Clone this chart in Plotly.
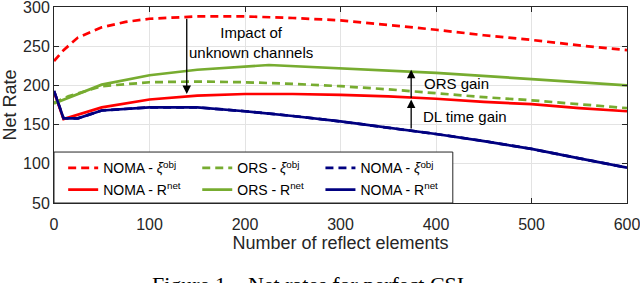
import plotly.graph_objects as go

# ---- data ----
x_noma_obj = [0, 10, 25, 50, 75, 100, 150, 200, 250, 300, 350, 400, 450, 500, 550, 600]
noma_obj = [231, 245, 261, 274, 281, 285, 288, 288, 286, 283, 277, 271, 264, 258, 251, 245]

x_ors_obj = [0, 15, 50, 100, 150, 200, 250, 300, 350, 400, 450, 500, 550, 600]
ors_obj = [178, 186, 199, 204, 205, 204, 202, 199, 195, 190, 185, 181, 176, 171]

x_noma_net = [0, 10, 50, 100, 150, 200, 250, 300, 350, 400, 450, 500, 550, 600]
noma_net = [192, 157, 172, 182, 187, 189, 189, 188, 186, 183, 179, 176, 171, 167]

x_ors_net = [0, 50, 100, 150, 225, 300, 400, 500, 600]
ors_net = [177, 201, 213, 220, 226, 222, 216, 208, 200]

x_noma2 = [0, 10, 25, 50, 100, 150, 200, 250, 300, 350, 400, 450, 500, 550, 600]
noma2_net = [193, 158, 158, 168, 172, 172, 167, 161, 154, 146, 138, 129, 119, 107, 95]
noma2_obj = noma2_net  # hidden beneath the solid navy line

x_ticks = [0, 100, 200, 300, 400, 500, 600]
y_ticks = [50, 100, 150, 200, 250, 300]

RED = "#FF0000"
GREEN = "#77AC30"
NAVY = "#000080"
AX = "#262626"
FONT = "Liberation Sans, Arial, sans-serif"

fig = go.Figure()
series = [
    (x_noma_obj, noma_obj, RED, "8px,5px", "NOMA - <i>ξ</i><sup>obj</sup>", "legend"),
    (x_ors_obj, ors_obj, GREEN, "8px,5px", "ORS - <i>ξ</i><sup>obj</sup>", "legend2"),
    (x_noma2, noma2_obj, NAVY, "8px,5px", "NOMA - <i>ξ</i><sup>obj</sup>", "legend3"),
    (x_noma_net, noma_net, RED, "solid", "NOMA - R<sup>net</sup>", "legend4"),
    (x_ors_net, ors_net, GREEN, "solid", "ORS - R<sup>net</sup>", "legend5"),
    (x_noma2, noma2_net, NAVY, "solid", "NOMA - R<sup>net</sup>", "legend6"),
]
for xs, ys, col, dash, name, lg in series:
    fig.add_trace(go.Scatter(x=xs, y=ys, mode="lines", name=name, legend=lg,
                             line=dict(color=col, width=2.7, dash=dash)))

# arrows
arrows = [
    (139, 189, 287),   # impact of unknown channels
    (374, 182, 143),   # DL time gain
    (374, 220, 182),   # ORS gain
]
for ax_x, tip_y, tail_y in arrows:
    fig.add_annotation(x=ax_x, y=tip_y, ax=ax_x, ay=tail_y, axref="x", ayref="y",
                       xref="x", yref="y", text="", showarrow=True,
                       arrowhead=2, arrowsize=1.3, arrowwidth=1.3, arrowcolor="black")

fig.add_annotation(x=206, y=255, xref="x", yref="y", text="Impact of<br>unknown channels",
                   showarrow=False, font=dict(family=FONT, size=15, color="black"),
                   xanchor="center", yanchor="middle")
fig.add_annotation(x=385, y=203, xref="x", yref="y", text="ORS gain",
                   showarrow=False, font=dict(family=FONT, size=15, color="black"),
                   xanchor="left", yanchor="middle")
fig.add_annotation(x=384, y=160, xref="x", yref="y", text="DL time gain",
                   showarrow=False, font=dict(family=FONT, size=15, color="black"),
                   xanchor="left", yanchor="middle")

# caption
fig.add_annotation(x=0.448, y=-0.34, xref="paper", yref="paper",
                   text="Figure 1.&nbsp;&nbsp; Net rates for perfect CSI.",
                   showarrow=False, font=dict(family="Liberation Serif, Times New Roman, serif",
                                              size=22, color="black"),
                   xanchor="center", yanchor="top")

# legend box
fig.add_shape(type="rect", xref="paper", yref="paper", x0=0, x1=0.696, y0=0, y1=0.26,
              fillcolor="white", line=dict(color=AX, width=1), layer="above")

leg_common = dict(orientation="v", bgcolor="rgba(0,0,0,0)", borderwidth=0,
                  font=dict(family=FONT, size=14, color="black"),
                  yanchor="middle", xanchor="left", itemwidth=30)
col_x = [0.016, 0.25, 0.465]
row_y = [0.177, 0.066]
fig.update_layout(
    legend=dict(x=col_x[0], y=row_y[0], **leg_common),
    legend2=dict(x=col_x[1], y=row_y[0], **leg_common),
    legend3=dict(x=col_x[2], y=row_y[0], **leg_common),
    legend4=dict(x=col_x[0], y=row_y[1], **leg_common),
    legend5=dict(x=col_x[1], y=row_y[1], **leg_common),
    legend6=dict(x=col_x[2], y=row_y[1], **leg_common),
)

axis_common = dict(showline=True, linecolor=AX, linewidth=1, mirror="ticks",
                   ticks="inside", ticklen=5, tickcolor=AX, automargin=False,
                   ticklabeloverflow="allow",
                   showgrid=True, gridcolor="#E3E3E3", gridwidth=1, zeroline=False,
                   tickfont=dict(family=FONT, size=16, color=AX))
fig.update_xaxes(range=[0, 600], tickvals=x_ticks, **axis_common, ticklabelstandoff=7,
                 title=dict(text="Number of reflect elements", standoff=4,
                            font=dict(family=FONT, size=18, color=AX)))
fig.update_yaxes(range=[50, 300], tickvals=y_ticks, **axis_common,
                 title=dict(text="Net Rate", standoff=4,
                            font=dict(family=FONT, size=18, color=AX)))

fig.update_layout(
    width=640, height=283,
    margin=dict(l=54, r=13, t=7, b=80),
    plot_bgcolor="white", paper_bgcolor="white",
    showlegend=True,
)
fig.write_html("out.html", config={"displayModeBar": False},
               post_script="document.body.style.margin='0';")
